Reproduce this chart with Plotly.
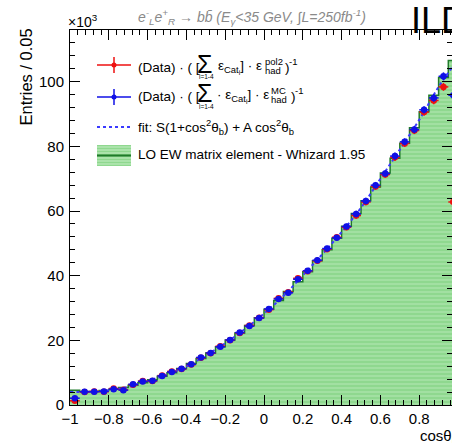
import plotly.graph_objects as go

# ---- data (entries in units of 10^3 per bin of 0.05) ----
bin_centers = [-0.975, -0.925, -0.875, -0.825, -0.775, -0.725, -0.675, -0.625, -0.575, -0.525,
               -0.475, -0.425, -0.375, -0.325, -0.275, -0.225, -0.175, -0.125, -0.075, -0.025,
               0.025, 0.075, 0.125, 0.175, 0.225, 0.275, 0.325, 0.375, 0.425, 0.475,
               0.525, 0.575, 0.625, 0.675, 0.725, 0.775, 0.825, 0.875, 0.925, 0.975]
bin_width = 0.05

whizard_lo = [4.6, 4.2, 4.2, 4.5, 4.9, 5.4, 6.1, 6.9, 7.8, 8.9,
              10.0, 11.3, 12.8, 14.4, 16.1, 18.0, 20.1, 22.3, 24.6, 27.0,
              29.6, 32.3, 35.1, 38.1, 41.2, 44.6, 48.0, 51.6, 55.3, 59.2,
              63.2, 67.4, 71.8, 76.3, 81.0, 85.8, 90.7, 95.8, 101.3, 106.6]

data_pol2 = [1.3, 4.0, 4.2, 4.1, 5.1, 4.7, 6.3, 7.4, 7.4, 9.1,
             10.4, 11.1, 12.5, 14.6, 16.0, 18.2, 20.0, 22.3, 24.6, 27.0,
             29.5, 33.0, 34.9, 39.2, 41.4, 44.6, 48.2, 51.9, 55.0, 58.6,
             62.8, 67.6, 71.3, 76.6, 80.9, 84.9, 90.6, 94.2, 98.4, 62.8]

data_mc = [2.1, 4.1, 4.1, 4.2, 4.9, 4.6, 6.4, 7.3, 7.5, 9.0,
           10.2, 11.2, 12.6, 14.7, 16.1, 18.0, 20.1, 22.4, 24.4, 26.9,
           29.7, 32.8, 34.7, 38.9, 41.5, 44.8, 48.4, 51.7, 55.2, 59.1,
           63.1, 68.0, 71.6, 77.0, 81.4, 85.2, 91.3, 95.0, 101.7, 95.8]

data_err = [0.4, 0.4, 0.4, 0.4, 0.4, 0.4, 0.4, 0.5, 0.5, 0.5,
            0.5, 0.5, 0.6, 0.6, 0.6, 0.6, 0.6, 0.7, 0.7, 0.7,
            0.7, 0.8, 0.8, 0.8, 0.8, 0.9, 0.9, 0.9, 0.9, 1.0,
            1.0, 1.0, 1.0, 1.1, 1.1, 1.1, 1.1, 1.2, 1.2, 1.2]

fit_x = [-1.0, -0.9, -0.8, -0.7, -0.6, -0.5, -0.4, -0.3, -0.2, -0.1, 0.0,
         0.1, 0.2, 0.3, 0.4, 0.5, 0.6, 0.7, 0.8, 0.9, 1.0]
fit_y = [4.0, 4.1, 4.6, 5.6, 7.4, 9.5, 11.9, 15.3, 19.1, 23.4, 28.3,
         33.7, 40.1, 46.6, 53.5, 61.0, 70.0, 79.0, 88.2, 98.4, 107.0]

# ---- geometry of the frame (pixels) ----
W, H = 452, 443
L, R, T, B = 70, 0, 30, 38
X_RANGE = [-1.0, 0.969]
Y_RANGE = [0, 116]

FONT = "Liberation Sans, Arial, Helvetica, sans-serif"
GREEN_BG = "#8fd88f"
GREEN_FG = "#c6eec6"
GREEN_LINE = "#1f7a2a"
RED = "#ee1111"
BLUE = "#1010e6"
FIT_BLUE = "#3a3aff"


def px(x):
    return (x - L) / (W - L - R)


def py(y):
    return (H - B - y) / (H - B - T)


fig = go.Figure()

# LO EW histogram: hatched fill
fig.add_trace(go.Bar(
    x=bin_centers, y=whizard_lo, width=bin_width,
    marker=dict(color=GREEN_BG, line=dict(width=0),
                pattern=dict(shape="-", bgcolor=GREEN_BG, fgcolor=GREEN_FG,
                             size=4, solidity=0.35)),
    showlegend=False, hoverinfo="skip",
))

# histogram outline as a step line
edges = [c - bin_width / 2 for c in bin_centers] + [bin_centers[-1] + bin_width / 2]
fig.add_trace(go.Scatter(
    x=edges, y=whizard_lo + [whizard_lo[-1]], mode="lines",
    line=dict(color=GREEN_LINE, width=1.5, shape="hv"),
    showlegend=False, hoverinfo="skip",
))

# fit curve
fig.add_trace(go.Scatter(
    x=fit_x, y=fit_y, mode="lines",
    line=dict(color=FIT_BLUE, width=2, dash="dot", shape="spline"),
    showlegend=False, hoverinfo="skip",
))

# corrected data points
for vals, col in ((data_pol2, RED), (data_mc, BLUE)):
    fig.add_trace(go.Scatter(
        x=bin_centers, y=vals, mode="markers",
        marker=dict(color=col, size=6.5, symbol="circle"),
        error_y=dict(type="data", array=data_err, color=col, thickness=1.5, width=0),
        error_x=dict(type="constant", value=bin_width / 2, color=col, thickness=1.5, width=0),
        showlegend=False, hoverinfo="skip", cliponaxis=True,
    ))

# invisible trace carrying the mirrored top/right axes
fig.add_trace(go.Scatter(x=[bin_centers[0]], y=[data_mc[0]], xaxis="x2", yaxis="y2",
                         mode="markers", marker=dict(opacity=0), showlegend=False,
                         hoverinfo="skip"))

axis_common = dict(showgrid=False, zeroline=False, showline=True, linecolor="black",
                   linewidth=1, ticks="inside", ticklen=10, tickwidth=1, tickcolor="black",
                   tickfont=dict(family=FONT, size=15, color="black"))

fig.update_layout(
    width=W, height=H,
    margin=dict(l=L, r=R, t=T, b=B, pad=0),
    paper_bgcolor="white", plot_bgcolor="white",
    bargap=0, showlegend=False,
    xaxis=dict(range=X_RANGE, tickmode="linear", tick0=-1, dtick=0.2,
               minor=dict(tickmode="linear", tick0=-1, dtick=0.04, ticks="inside",
                          ticklen=5, tickcolor="black"),
               mirror=False, **axis_common),
    yaxis=dict(range=Y_RANGE, tickmode="linear", tick0=0, dtick=20,
               minor=dict(tickmode="linear", tick0=0, dtick=4, ticks="inside",
                          ticklen=5, tickcolor="black"),
               ticklabelstandoff=2, mirror=False, **axis_common),
    xaxis2=dict(overlaying="x", matches="x", anchor="y", side="top", range=X_RANGE,
                tickmode="linear", tick0=-1, dtick=0.2, showticklabels=False,
                showgrid=False, zeroline=False, showline=True, linecolor="black",
                ticks="inside", ticklen=10, tickcolor="black",
                minor=dict(tickmode="linear", tick0=-1, dtick=0.04, ticks="inside",
                           ticklen=5, tickcolor="black")),
    yaxis2=dict(overlaying="y", matches="y", anchor="x", side="right", range=Y_RANGE,
                tickmode="linear", tick0=0, dtick=20, showticklabels=False,
                showgrid=False, zeroline=False, showline=False,
                ticks="inside", ticklen=10, tickcolor="black",
                minor=dict(tickmode="linear", tick0=0, dtick=4, ticks="inside",
                           ticklen=5, tickcolor="black")),
)

ann = []


def text(x, y, s, size=13.5, color="black", xanchor="left", yanchor="middle", angle=0):
    ann.append(dict(x=px(x), y=py(y), xref="paper", yref="paper", text=s,
                    showarrow=False, xanchor=xanchor, yanchor=yanchor, textangle=angle,
                    borderpad=0, font=dict(family=FONT, size=size, color=color)))


# axis titles and header
text(26, 28, "Entries / 0.05", size=16.5, yanchor="top", xanchor="center", angle=-90)
text(419, 436, "cosθ<sub>b</sub>", size=15)
text(67, 21, "×10<sup>3</sup>", size=14)
text(137, 17, "<i>e<sup>-</sup><sub>L</sub>e<sup>+</sup><sub>R</sub> → bb̄ (E<sub>γ</sub>&lt;35 GeV, "
              "∫L=250fb<sup>-1</sup>)</i>", size=14, color="#8a8a8a")
text(410, 21, "ILD", size=36)

# legend rows
for yc, top_label in ((67, "pol2"), (96, "MC")):
    text(137, yc, "(Data) · ( [", size=13.5)
    text(196, yc - 3, "Σ", size=25)
    text(198, yc + 10, "i=1-4", size=6.5)
    if top_label == "pol2":
        text(217, yc, "ε<sub>Cat<sub>i</sub></sub>] · ε", size=13.5)
        sx = 264
    else:
        text(216, yc, "· ε<sub>Cat<sub>i</sub></sub>] · ε", size=13.5)
        sx = 270
    text(sx, yc - 6, top_label, size=9.5)
    text(sx, yc + 4, "had", size=9.5)
    text(sx + 20, yc, ")", size=13.5)
    text(sx + 24, yc - 6, "-1", size=9.5)

text(137, 127, "fit: S(1+cos<sup>2</sup>θ<sub>b</sub>) + A cos<sup>2</sup>θ<sub>b</sub>", size=13.5)
text(137, 154, "LO EW matrix element - Whizard 1.95", size=13.5)

shapes = []


def seg(x0, y0, x1, y1, color, width=1.5, dash="solid"):
    shapes.append(dict(type="line", xref="paper", yref="paper",
                       x0=px(x0), y0=py(y0), x1=px(x1), y1=py(y1),
                       line=dict(color=color, width=width, dash=dash)))


# legend symbols for the two data series
for yc, col in ((65, RED), (97, BLUE)):
    seg(97, yc, 131, yc, col)
    seg(114, yc - 8, 114, yc + 8, col)
    shapes.append(dict(type="circle", xref="paper", yref="paper",
                       x0=px(111.5), x1=px(116.5), y0=py(yc + 2.5), y1=py(yc - 2.5),
                       fillcolor=col, line=dict(color=col, width=0)))

# legend symbol for the fit
seg(97, 127, 131, 127, FIT_BLUE, width=2, dash="dot")

# legend symbol for the hatched histogram
shapes.append(dict(type="rect", xref="paper", yref="paper",
                   x0=px(97), x1=px(131), y0=py(166), y1=py(145),
                   fillcolor=GREEN_BG, line=dict(width=0)))
for ys in (147, 150, 153, 158, 161, 164):
    seg(97, ys, 131, ys, GREEN_FG, width=1)
seg(97, 155.5, 131, 155.5, GREEN_LINE, width=2)

fig.update_layout(annotations=ann, shapes=shapes)

fig.write_html("out.html")
